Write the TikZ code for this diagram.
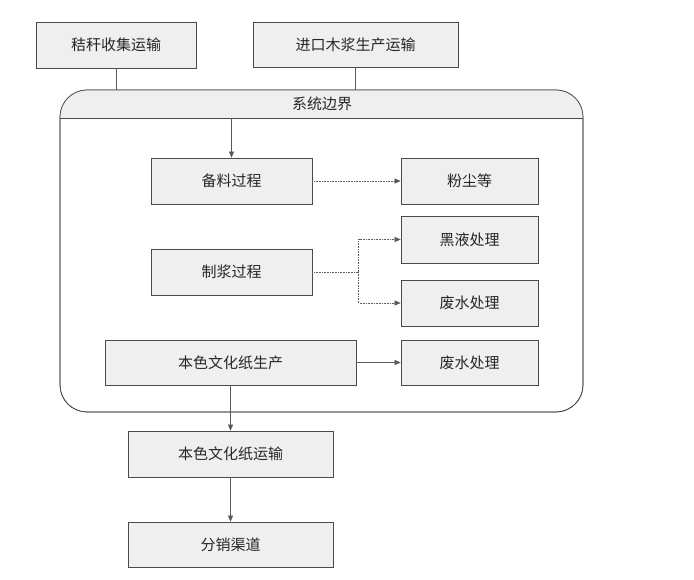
\documentclass[tikz,border=0pt]{standalone}
\usepackage{fontspec}
\setmainfont{Noto Sans CJK SC}
\usetikzlibrary{arrows.meta}
\definecolor{boxfill}{HTML}{EFEFEF}
\definecolor{edge}{HTML}{4A4A4A}
\definecolor{conn}{HTML}{5A5A5A}
\begin{document}
\begin{tikzpicture}[x=1pt,y=-1pt,
  box/.style={draw=edge,line width=0.7pt,fill=boxfill,rectangle,inner sep=0pt,
    font=\fontsize{15}{18}\selectfont,text=black!85},
  conline/.style={draw=conn,line width=0.6pt},
  arr/.style={conline,-{Triangle[length=6pt,width=5pt]}},
  dotarr/.style={arr,densely dotted},
  dotline/.style={conline,densely dotted}]
\useasboundingbox (0,0) rectangle (694,580);
\fill[white] (0,0) rectangle (694,580);
% top boxes
\node[box,minimum width=160pt,minimum height=46pt] (n1) at (116,45) {秸秆收集运输};
\node[box,minimum width=205pt,minimum height=45pt] (n2) at (355.5,44.5) {进口木浆生产运输};
% system boundary
\node[draw=edge,line width=0.7pt,rounded corners=27pt,rectangle,inner sep=0pt,
  minimum width=523pt,minimum height=322pt] (bnd) at (321.5,251) {};
\begin{scope}
  \clip (60,90) rectangle (583,118);
  \fill[boxfill,rounded corners=27pt] (60,90) rectangle (583,412);
\end{scope}
\draw[draw=edge,line width=0.7pt,rounded corners=27pt] (60,412) rectangle (583,90);
\coordinate (hl) at (60,118);
\coordinate (hr) at (583,118);
\draw[draw=edge,line width=0.7pt] (hl) -- (hr);
\node[font=\fontsize{15}{18}\selectfont,text=black!85] (title) at (322,104) {系统边界};
% inner boxes
\node[box,minimum width=161pt,minimum height=46pt] (bl) at (231.5,181) {备料过程};
\node[box,minimum width=137pt,minimum height=46pt] (fc) at (469.5,181) {粉尘等};
\node[box,minimum width=137pt,minimum height=47pt] (hy) at (469.5,239.5) {黑液处理};
\node[box,minimum width=161pt,minimum height=46pt] (zj) at (231.5,272) {制浆过程};
\node[box,minimum width=137pt,minimum height=46pt] (fs1) at (469.5,303) {废水处理};
\node[box,minimum width=251pt,minimum height=45pt] (bs) at (230.5,362.5) {本色文化纸生产};
\node[box,minimum width=137pt,minimum height=45pt] (fs2) at (469.5,362.5) {废水处理};
% outer bottom boxes
\node[box,minimum width=205pt,minimum height=46pt] (ys) at (230.5,454) {本色文化纸运输};
\node[box,minimum width=205pt,minimum height=45pt] (fx) at (230.5,544.5) {分销渠道};
% connectors
\draw[conline] (n1.south) -- (n1.south |- bnd.north);
\draw[conline] (n2.south) -- (n2.south |- bnd.north);
\draw[arr] (bl.north |- hl) -- (bl.north);
\draw[dotarr] (bl.east) -- (fc.west);
\coordinate (j) at (358.5,272);
\draw[dotline] (zj.east) -- (j);
\draw[dotarr] (j) |- (hy.west);
\draw[dotarr] (j) |- (fs1.west);
\draw[arr] (bs.east) -- (fs2.west);
\draw[arr] (bs.south) -- (ys.north);
\draw[arr] (ys.south) -- (fx.north);
\end{tikzpicture}
\end{document}
